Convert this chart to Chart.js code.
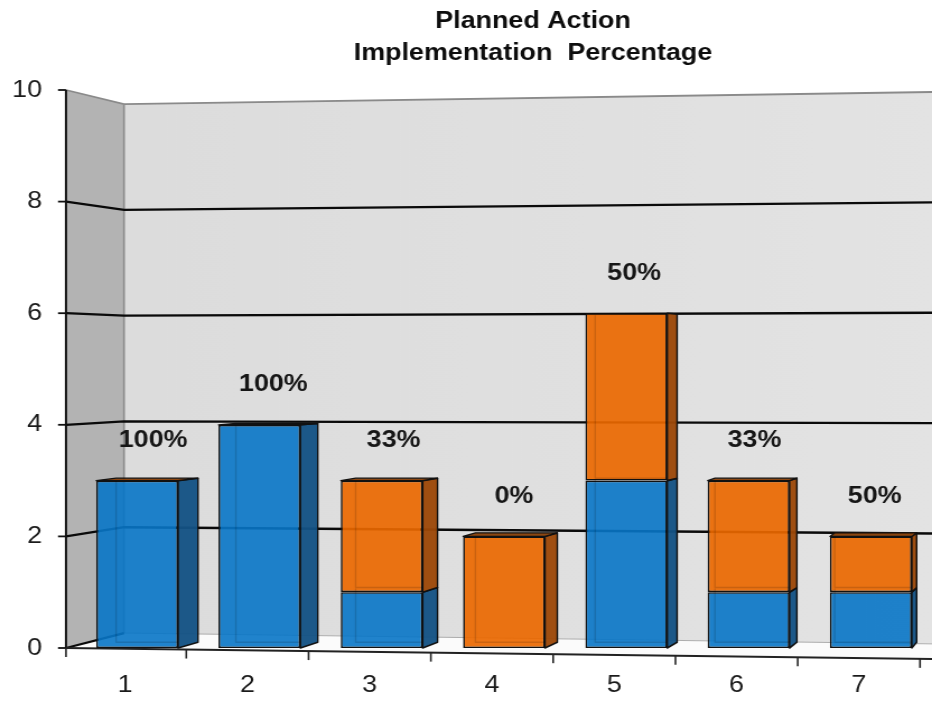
<!DOCTYPE html>
<html><head><meta charset="utf-8">
<script src="https://cdn.jsdelivr.net/npm/chart.js@4.4.1/dist/chart.umd.min.js"></script>
<style>
html,body{margin:0;padding:0;background:#fff;overflow:hidden;}
#c{display:block;transform:scaleX(1.1202);transform-origin:0 0;}
</style></head><body>
<canvas id="c" width="832" height="708"></canvas>
<script>
// ---- data ----
const categories = ['1','2','3','4','5','6','7'];
const implemented = [3, 4, 1, 0, 3, 1, 1];
const notImplemented = [0, 0, 2, 2, 3, 2, 1];
const yTicks = [0, 2, 4, 6, 8, 10];
const titleLines = ['Planned Action', 'Implementation  Percentage'];

// ---- drawing helpers ----
const S = 932 / 832;            // horizontal stretch of the picture
const FONT = '"Liberation Sans", Arial, sans-serif';
const VP = 360;
const PLOT_LEFT = 76;           // reference px
function yBackLeft(fy){ return VP + (fy - VP) * 0.948; }
function yBackRight(fy, top){ return top + 2 + (fy - top) * 0.989; }
function rise(y){ return (y - VP) * 0.02; }

const threeD = {
  id: 'threeD',
  beforeDatasetsDraw(chart){
    const ctx = chart.ctx, ys = chart.scales.y, ca = chart.chartArea;
    const fx = ca.left * S - 10, bx = fx + 58, W = 932;
    const top = ys.getPixelForValue(10), bot = ys.getPixelForValue(0);
    const axisY = x => bot + (x - fx) * (11 / 866);
    ctx.save();
    ctx.scale(1 / S, 1);
    // back wall
    const g = ctx.createLinearGradient(bx, 0, W, 0);
    g.addColorStop(0, '#dcdcdc'); g.addColorStop(1, '#e3e3e3');
    ctx.fillStyle = g;
    ctx.beginPath();
    ctx.moveTo(bx, yBackLeft(top)); ctx.lineTo(W, yBackRight(top, top));
    ctx.lineTo(W, yBackRight(bot, top)); ctx.lineTo(bx, yBackLeft(bot));
    ctx.closePath(); ctx.fill();
    // left wall
    ctx.fillStyle = '#b3b3b3';
    ctx.beginPath();
    ctx.moveTo(fx, top); ctx.lineTo(bx, yBackLeft(top));
    ctx.lineTo(bx, yBackLeft(bot)); ctx.lineTo(fx, bot);
    ctx.closePath(); ctx.fill();
    // floor
    ctx.fillStyle = '#fbfbfb';
    ctx.beginPath();
    ctx.moveTo(fx, bot); ctx.lineTo(bx, yBackLeft(bot));
    ctx.lineTo(W, yBackRight(bot, top)); ctx.lineTo(W, axisY(W));
    ctx.closePath(); ctx.fill();
    // wall edges
    ctx.strokeStyle = '#8a8a8a'; ctx.lineWidth = 1.8;
    ctx.beginPath();
    ctx.moveTo(fx, top); ctx.lineTo(bx, yBackLeft(top)); ctx.lineTo(W, yBackRight(top, top));
    ctx.moveTo(bx, yBackLeft(top)); ctx.lineTo(bx, yBackLeft(bot));
    ctx.stroke();
    ctx.strokeStyle = '#a8a8a8'; ctx.lineWidth = 1;
    ctx.beginPath(); ctx.moveTo(bx, yBackLeft(bot)); ctx.lineTo(W, yBackRight(bot, top)); ctx.stroke();
    // grid lines
    ctx.strokeStyle = '#0a0a0a'; ctx.lineWidth = 2.3;
    yTicks.forEach(v => {
      if (v === 10) return;
      const fy = ys.getPixelForValue(v);
      ctx.beginPath();
      ctx.moveTo(fx, fy); ctx.lineTo(bx, yBackLeft(fy));
      if (v !== 0) ctx.lineTo(W, yBackRight(fy, top));
      ctx.stroke();
    });
    // y axis line and tick marks
    ctx.lineWidth = 2.2; ctx.strokeStyle = '#111';
    ctx.beginPath(); ctx.moveTo(fx, top); ctx.lineTo(fx, bot); ctx.stroke();
    ctx.lineWidth = 1.8;
    yTicks.forEach(v => {
      const fy = ys.getPixelForValue(v);
      ctx.beginPath(); ctx.moveTo(fx - 8, fy); ctx.lineTo(fx, fy); ctx.stroke();
    });
    // x axis line (sloped) and tick marks near category boundaries
    ctx.strokeStyle = '#222'; ctx.lineWidth = 2.2;
    ctx.beginPath(); ctx.moveTo(fx, bot); ctx.lineTo(W, axisY(W)); ctx.stroke();
    ctx.lineWidth = 1.8;
    for (let k = 0; k <= categories.length; k++){
      let x = k === 0 ? fx : (ca.left + (ca.right - ca.left) * k / categories.length) * S - 12;
      if (x > W - 2) x = W - 5;
      ctx.beginPath(); ctx.moveTo(x, axisY(x)); ctx.lineTo(x, axisY(x) + 9); ctx.stroke();
    }
    ctx.restore();
  },
  afterDatasetsDraw(chart){
    const ctx = chart.ctx, ca = chart.chartArea;
    const sideCols = ['rgba(20,82,132,0.96)', 'rgba(156,72,8,0.96)'];
    const topCol = 'rgba(138,66,10,0.97)';
    const metas = chart.data.datasets.map((d, i) => chart.getDatasetMeta(i));
    const n = categories.length;
    const labelInfo = [];
    ctx.save();
    ctx.scale(1 / S, 1);
    ctx.lineJoin = 'round';
    for (let i = 0; i < n; i++){
      let topY = null, topL, topR, topDx;
      metas.forEach((m, di) => {
        const el = m.data[i];
        const val = chart.data.datasets[di].data[i];
        const L = (el.x - el.width / 2) * S, R = (el.x + el.width / 2) * S;
        const T = Math.min(el.y, el.base), B = Math.max(el.y, el.base);
        const dx = 22 - 17.6 * ((R - ca.left * S) / ((ca.right - ca.left) * S));
        if (val > 0){
          ctx.fillStyle = sideCols[di];
          ctx.strokeStyle = '#111'; ctx.lineWidth = 1.6;
          ctx.beginPath();
          ctx.moveTo(R, T); ctx.lineTo(R + dx, T - rise(T));
          ctx.lineTo(R + dx, B - rise(B)); ctx.lineTo(R, B);
          ctx.closePath(); ctx.fill(); ctx.stroke();
          ctx.strokeStyle = 'rgba(0,0,0,0.14)'; ctx.lineWidth = 1.5;
          ctx.beginPath();
          ctx.moveTo(L + dx, T - rise(T) + 1); ctx.lineTo(L + dx, B - rise(B));
          ctx.lineTo(R, B - rise(B));
          ctx.stroke();
          topY = T; topL = L; topR = R; topDx = dx;
        }
      });
      if (topY !== null){
        const r = rise(topY);
        if (r > 0.6){
          ctx.fillStyle = topCol; ctx.strokeStyle = '#111'; ctx.lineWidth = 1.3;
          ctx.beginPath();
          ctx.moveTo(topL, topY); ctx.lineTo(topL + topDx, topY - r);
          ctx.lineTo(topR + topDx, topY - r); ctx.lineTo(topR, topY);
          ctx.closePath(); ctx.fill(); ctx.stroke();
        }
        labelInfo.push({x: ((topL + topR) / 2 + topDx * 0.8) / S, y: topY - 40, i});
      }
    }
    ctx.restore();
    ctx.save();
    ctx.font = 'bold 24px ' + FONT;
    ctx.fillStyle = '#161616';
    ctx.textAlign = 'center'; ctx.textBaseline = 'middle';
    labelInfo.forEach(o => {
      const tot = implemented[o.i] + notImplemented[o.i];
      const pct = Math.round(100 * implemented[o.i] / tot);
      ctx.fillText(pct + '%', o.x, o.y);
    });
    ctx.restore();
  },
  afterDraw(chart){
    const ctx = chart.ctx;
    ctx.save();
    ctx.font = 'bold 24px ' + FONT;
    ctx.fillStyle = '#0d0d0d';
    ctx.textAlign = 'center'; ctx.textBaseline = 'alphabetic';
    ctx.fillText(titleLines[0], 533 / S, 28);
    ctx.fillText(titleLines[1], 533 / S, 60);
    ctx.restore();
  }
};

new Chart(document.getElementById('c'), {
  type: 'bar',
  data: {
    labels: categories,
    datasets: [
      {label: 'Implemented', data: implemented, backgroundColor: 'rgba(8,118,198,0.9)',
       borderColor: '#111', borderWidth: 1.6, borderSkipped: false, stack: 's',
       barPercentage: 0.67, categoryPercentage: 1},
      {label: 'Not implemented', data: notImplemented, backgroundColor: 'rgba(234,104,0,0.92)',
       borderColor: '#111', borderWidth: 1.6, borderSkipped: false, stack: 's',
       barPercentage: 0.67, categoryPercentage: 1}
    ]
  },
  options: {
    responsive: false, animation: false, devicePixelRatio: 1,
    layout: {padding: {top: 90, left: 0, right: 0, bottom: 0}},
    plugins: {legend: {display: false}, title: {display: false}, tooltip: {enabled: false}},
    scales: {
      x: {
        stacked: true,
        grid: {display: false, drawTicks: false}, border: {display: false},
        ticks: {font: {family: FONT, size: 24}, color: '#1a1a1a', padding: 22.6, labelOffset: -12 / S, maxRotation: 0, autoSkip: false},
        afterFit(s){ s.height = 60; }
      },
      y: {
        stacked: true, min: 0, max: 10,
        grid: {display: false, drawTicks: false}, border: {display: false},
        ticks: {stepSize: 2, font: {family: FONT, size: 24}, color: '#1a1a1a', padding: (PLOT_LEFT - 42) / S},
        afterFit(s){ s.width = PLOT_LEFT / S; }
      }
    }
  },
  plugins: [threeD]
});
</script>
</body></html>
